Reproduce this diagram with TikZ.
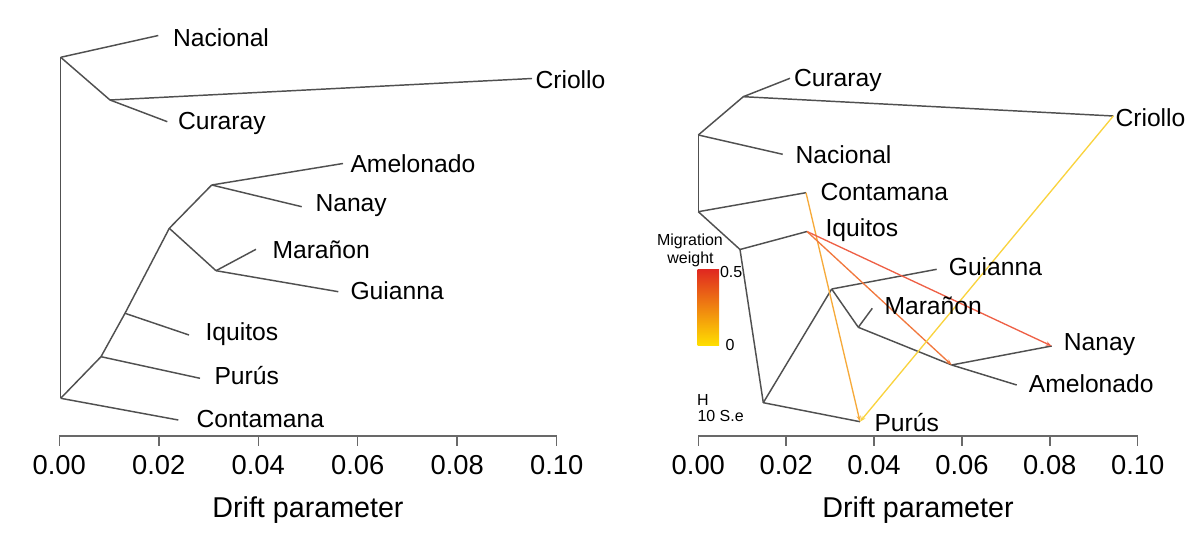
\documentclass[tikz,border=0pt]{standalone}
\usepackage{fontspec}
\setmainfont{Liberation Sans}
\usetikzlibrary{arrows.meta}

\definecolor{treegray}{RGB}{80,80,80}
\definecolor{axisgray}{RGB}{105,105,105}
\definecolor{migred}{RGB}{224,40,32}
\definecolor{migorange}{RGB}{245,130,30}
\definecolor{migyellow}{RGB}{255,224,0}
\definecolor{wRed}{RGB}{238,96,70}
\definecolor{wOrangeRed}{RGB}{241,120,62}
\definecolor{wOrange}{RGB}{246,170,58}
\definecolor{wYellow}{RGB}{249,211,62}

\tikzset{every picture/.style={line width=0.75pt}}
\tikzset{
  branch/.style={draw=treegray, line width=1.1pt},
  axisline/.style={draw=axisgray, line width=1.1pt},
  migline/.style={line width=1pt, -{Stealth[length=4.5pt,width=3.2pt]}},
  tiplab/.style={anchor=west, inner sep=0pt, font=\fontsize{18.5}{22}\selectfont, text height=13.3pt, text depth=0pt},
  ticklab/.style={inner sep=0pt, font=\fontsize{20.5}{24}\selectfont, text height=14.7pt, text depth=0pt},
  axtitle/.style={inner sep=0pt, font=\fontsize{21.5}{26}\selectfont, text height=15.4pt, text depth=0pt},
  leglab/.style={inner sep=0pt, font=\fontsize{12}{14}\selectfont, text height=8.6pt, text depth=0pt}
}

\begin{document}
\begin{tikzpicture}[x=0.75pt,y=0.75pt,yscale=-1,xscale=1]
	\useasboundingbox (0,0) rectangle (1200,534);
	
	%%% left panel: tree without migration
	%Points
	\coordinate (lRootTop) at (60.7,57.3);
	\coordinate (lRootBot) at (60.7,398.3);
	\coordinate (lA) at (110,100);
	\coordinate (lB) at (211.7,185);
	\coordinate (lC) at (169.3,228.3);
	\coordinate (lD) at (216,270.7);
	\coordinate (lE) at (125,313.3);
	\coordinate (lF) at (101,356.7);
	\coordinate (lNacional) at (158.3,35.5);
	\coordinate (lCriollo) at (532,78.5);
	\coordinate (lCuraray) at (167.3,121.7);
	\coordinate (lAmelonado) at (343,163.5);
	\coordinate (lNanay) at (301.7,206.7);
	\coordinate (lMaranon) at (256,249.3);
	\coordinate (lGuianna) at (338.3,291.7);
	\coordinate (lIquitos) at (189,335);
	\coordinate (lPurus) at (200,378.3);
	\coordinate (lContamana) at (178.3,420);
	
	%Straight Lines
	\draw [branch] (lRootTop) -- (lRootBot);
	\draw [branch] (lRootTop) -- (lNacional);
	\draw [branch] (lRootTop) -- (lA);
	\draw [branch] (lA) -- (lCriollo);
	\draw [branch] (lA) -- (lCuraray);
	\draw [branch] (lRootBot) -- (lContamana);
	\draw [branch] (lRootBot) -- (lF);
	\draw [branch] (lF) -- (lPurus);
	\draw [branch] (lF) -- (lE);
	\draw [branch] (lE) -- (lIquitos);
	\draw [branch] (lE) -- (lC);
	\draw [branch] (lC) -- (lB);
	\draw [branch] (lB) -- (lAmelonado);
	\draw [branch] (lB) -- (lNanay);
	\draw [branch] (lC) -- (lD);
	\draw [branch] (lD) -- (lMaranon);
	\draw [branch] (lD) -- (lGuianna);
	
	% Text Node
	\node [tiplab] (lNacionalLab) at (172.5,37.5) {Nacional};
	\node [tiplab] (lCriolloLab) at (535,80) {Criollo};
	\node [tiplab] (lCurarayLab) at (177.5,120.5) {Curaray};
	\node [tiplab] (lAmelonadoLab) at (350,164) {Amelonado};
	\node [tiplab] (lNanayLab) at (315,203) {Nanay};
	\node [tiplab] (lMaranonLab) at (272,250) {Marañon};
	\node [tiplab] (lGuiannaLab) at (350,291) {Guianna};
	\node [tiplab] (lIquitosLab) at (205,332) {Iquitos};
	\node [tiplab] (lPurusLab) at (214,376) {Purús};
	\node [tiplab] (lContamanaLab) at (196,419) {Contamana};
	
	%%% right panel: tree with migration edges
	%Points
	\coordinate (rTop) at (698.3,135);
	\coordinate (rMid) at (698.3,211.7);
	\coordinate (rA) at (743.3,96.7);
	\coordinate (rB) at (740,249.5);
	\coordinate (rC) at (763.3,402.7);
	\coordinate (rD) at (831.7,289);
	\coordinate (rE) at (858.3,327.3);
	\coordinate (rF) at (951.7,365);
	\coordinate (rCuraray) at (790,78.3);
	\coordinate (rCriollo) at (1113.3,116);
	\coordinate (rNacional) at (782.7,154.3);
	\coordinate (rContamana) at (806,192.7);
	\coordinate (rIquitos) at (807,231.5);
	\coordinate (rPurus) at (860,421.7);
	\coordinate (rGuianna) at (936.7,269.3);
	\coordinate (rMaranon) at (872.3,308.3);
	\coordinate (rNanay) at (1051.7,346);
	\coordinate (rAmelonado) at (1016.7,385);
	
	%Straight Lines
	\draw [branch] (rTop) -- (rMid);
	\draw [branch] (rTop) -- (rA);
	\draw [branch] (rA) -- (rCuraray);
	\draw [branch] (rA) -- (rCriollo);
	\draw [branch] (rTop) -- (rNacional);
	\draw [branch] (rMid) -- (rContamana);
	\draw [branch] (rMid) -- (rB);
	\draw [branch] (rB) -- (rIquitos);
	\draw [branch] (rB) -- (rC);
	\draw [branch] (rC) -- (rPurus);
	\draw [branch] (rC) -- (rD);
	\draw [branch] (rD) -- (rGuianna);
	\draw [branch] (rD) -- (rE);
	\draw [branch] (rE) -- (rMaranon);
	\draw [branch] (rE) -- (rF);
	\draw [branch] (rF) -- (rNanay);
	\draw [branch] (rF) -- (rAmelonado);
	
	%Migration edges
	\draw [migline, draw=wOrange, color=wOrange] (rContamana) -- (rPurus);
	\draw [migline, draw=wRed, color=wRed] (rIquitos) -- (rNanay);
	\draw [migline, draw=wOrangeRed, color=wOrangeRed] (rIquitos) -- (rF);
	\draw [migline, draw=wYellow, color=wYellow] (rCriollo) -- (rPurus);
	
	% Text Node
	\node [tiplab] (rCurarayLab) at (793.5,77.5) {Curaray};
	\node [tiplab] (rCriolloLab) at (1115,117.5) {Criollo};
	\node [tiplab] (rNacionalLab) at (795,154.7) {Nacional};
	\node [tiplab] (rContamanaLab) at (820,191.7) {Contamana};
	\node [tiplab] (rIquitosLab) at (825,228) {Iquitos};
	\node [tiplab] (rGuiannaLab) at (948.3,267) {Guianna};
	\node [tiplab] (rMaranonLab) at (884,305.5) {Marañon};
	\node [tiplab] (rNanayLab) at (1063.3,342) {Nanay};
	\node [tiplab] (rAmelonadoLab) at (1028.3,383.5) {Amelonado};
	\node [tiplab] (rPurusLab) at (874,423) {Purús};
	
	%Legend
	\node [leglab] (migLab) at (690,239.3) {Migration};
	\node [leglab] (weightLab) at (690.5,257.5) {weight};
	\shade [top color=migred, middle color=migorange, bottom color=migyellow] (697.7,269.3) rectangle (719,346);
	\node [leglab, anchor=west] (topLab) at (719.5,271.7) {0.5};
	\node [leglab, anchor=west] (botLab) at (725,344.3) {0};
	\node [leglab, anchor=west] (hLab) at (696.7,400) {H};
	\node [leglab, anchor=west] (seLab) at (697,416) {10 S.e};
	
	%Axes
	\draw [axisline] (59.3,446) -- (59.3,436) -- (556.7,436) -- (556.7,446);
	\foreach \k/\lab in {0/0.00,1/0.02,2/0.04,3/0.06,4/0.08,5/0.10}{
		\draw [axisline] (59.3+99.48*\k,436) -- (59.3+99.48*\k,446);
		\node [ticklab] (lTick\k) at (59.3+99.48*\k,465) {\lab};
	}
	\node [axtitle] (lTitle) at (308,507) {Drift parameter};
	
	\draw [axisline] (698.3,446) -- (698.3,436) -- (1137.7,436) -- (1137.7,446);
	\foreach \k/\lab in {0/0.00,1/0.02,2/0.04,3/0.06,4/0.08,5/0.10}{
		\draw [axisline] (698.3+87.88*\k,436) -- (698.3+87.88*\k,446);
		\node [ticklab] (rTick\k) at (698.3+87.88*\k,465) {\lab};
	}
	\node [axtitle] (rTitle) at (918,507) {Drift parameter};
	
\end{tikzpicture}
\end{document}
